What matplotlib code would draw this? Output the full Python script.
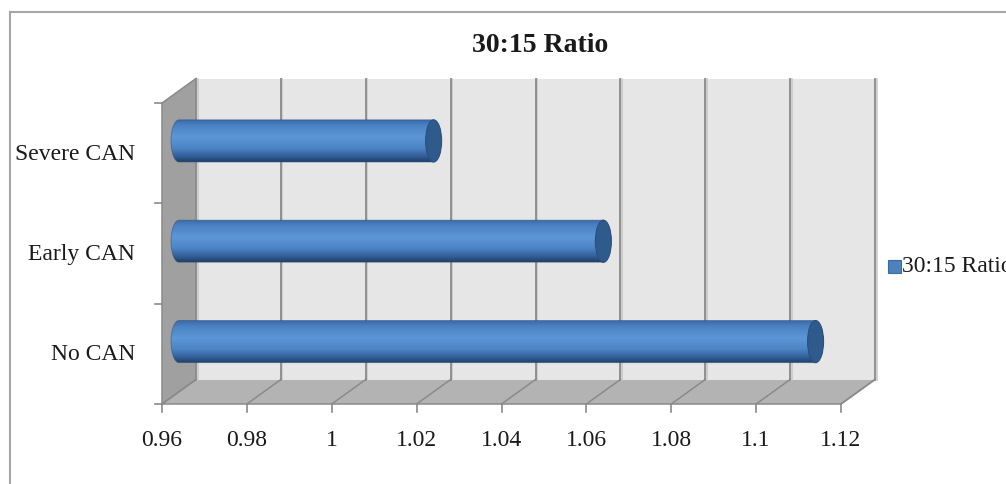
import numpy as np
import matplotlib
matplotlib.use("Agg")
import matplotlib.pyplot as plt
import matplotlib.transforms as mtransforms
from matplotlib.patches import Polygon, Ellipse, PathPatch, Rectangle
from matplotlib.path import Path
from matplotlib.colors import LinearSegmentedColormap
from matplotlib.lines import Line2D

# ---- data ----
categories = ["No CAN", "Early CAN", "Severe CAN"]
ratio_values = [1.11, 1.06, 1.02]
x_ticks = [0.96, 0.98, 1.00, 1.02, 1.04, 1.06, 1.08, 1.10, 1.12]
x_tick_labels = ["0.96", "0.98", "1", "1.02", "1.04", "1.06", "1.08", "1.1", "1.12"]
series_name = "30:15 Ratio"
chart_title = "30:15 Ratio"

W, H, DPI = 1006, 485, 100
fig = plt.figure(figsize=(W / DPI, H / DPI), dpi=DPI)
fig.patch.set_facecolor("white")

# front plane of the 3-D box (pixels)
L, R, B, T = 162, 841, 405, 104
ax = fig.add_axes([L / W, (H - B) / H, (R - L) / W, (B - T) / H])
ax.set_axis_off()
ax.set_autoscale_on(False)
ax.set_zorder(10)
xmin, xmax = x_ticks[0], x_ticks[-1]
ax.set_xlim(xmin, xmax)
ax.set_ylim(0, len(categories))

DX, DY = 34.0, 24.5  # depth offset in pixels (back wall relative to front)
IDT = mtransforms.IdentityTransform()


def pt(x, y, depth=0.0):
    px, py = ax.transData.transform((x, y))
    return (px + depth * DX, py + depth * DY)


def seg(a, b, **kw):
    ax.add_line(Line2D([a[0], b[0]], [a[1], b[1]], transform=IDT, clip_on=False, **kw))


serif = "Liberation Serif"
grid_c = "#8a8a8a"
ny = len(categories)

# floor, back wall, side wall
for verts, col in [
    ([pt(xmin, 0, 0), pt(xmax, 0, 0), pt(xmax, 0, 1), pt(xmin, 0, 1)], "#b3b3b3"),
    ([pt(xmin, 0, 1), pt(xmax, 0, 1), pt(xmax, ny, 1), pt(xmin, ny, 1)], "#e6e6e6"),
    ([pt(xmin, 0, 0), pt(xmin, 0, 1), pt(xmin, ny, 1), pt(xmin, ny, 0)], "#a0a0a0"),
]:
    ax.add_patch(Polygon(verts, closed=True, transform=IDT, facecolor=col,
                         edgecolor="none", clip_on=False, zorder=0.5))

# gridlines on back wall and floor, ticks and tick labels
lab_x_tr = mtransforms.offset_copy(ax.transData, fig=fig, x=0, y=-36, units="dots")
for xv, txt in zip(x_ticks, x_tick_labels):
    a, b = pt(xv, 0, 1), pt(xv, ny, 1)
    seg((a[0] + 1.5, a[1]), (b[0] + 1.5, b[1]), color="#c8c8c8", lw=1.2, zorder=0.8)
    seg(a, b, color=grid_c, lw=1.3, zorder=0.9)
    f = pt(xv, 0, 0)
    seg(f, a, color=grid_c, lw=1.1, zorder=0.9)
    seg(f, (f[0], f[1] - 8), color=grid_c, lw=1.2, zorder=0.9)
    ax.text(xv, 0, txt, transform=lab_x_tr, ha="center", va="center",
            fontsize=17, family=serif, color="#1a1a1a")

# box edges
for p, q in [((xmin, 0, 0), (xmax, 0, 0)), ((xmax, 0, 0), (xmax, 0, 1)),
             ((xmin, 0, 0), (xmin, ny, 0)), ((xmin, ny, 0), (xmin, ny, 1)),
             ((xmin, 0, 0), (xmin, 0, 1))]:
    seg(pt(*p), pt(*q), color=grid_c, lw=1.1, zorder=0.9)

# category separator ticks on the left
for k in range(ny + 1):
    a = pt(xmin, k, 0)
    seg((a[0] - 7, a[1]), a, color=grid_c, lw=1.2, zorder=0.9)

# category labels
lab_tr = mtransforms.offset_copy(ax.transData, fig=fig, x=-27, y=0, units="dots")
for i, name in enumerate(categories):
    ax.text(xmin, i + 0.5, name, transform=lab_tr, ha="right", va="center",
            fontsize=17, family=serif, color="#1a1a1a")

# cylinders at mid depth
mid_tr = mtransforms.offset_copy(ax.transData, fig=fig, x=DX / 2, y=DY / 2, units="dots")
cmap = LinearSegmentedColormap.from_list(
    "cyl", [(0.0, "#3868a5"), (0.15, "#4b82c3"), (0.42, "#5c97d7"),
            (0.68, "#4d84c4"), (0.86, "#33609a"), (1.0, "#223f66")])
grad = np.linspace(0, 1, 256).reshape(-1, 1)
half_h = 0.21
cap_w = 16.0 / ((R - L) / (xmax - xmin))  # cap ellipse width in data units

for i, v in enumerate(ratio_values):
    c = i + 0.5
    y0, y1 = c - half_h, c + half_h
    th = np.linspace(np.pi / 2, 3 * np.pi / 2, 40)
    left = np.column_stack([xmin + cap_w / 2 * np.cos(th), c + half_h * np.sin(th)])
    verts = np.vstack([[[v, y1]], left, [[v, y0]], [[v, y1]]])
    body = PathPatch(Path(verts), transform=mid_tr, facecolor="none", edgecolor="none",
                     clip_on=False, zorder=2)
    ax.add_patch(body)
    im = ax.imshow(grad, cmap=cmap, extent=[xmin - cap_w, v, y0, y1], origin="upper",
                   aspect="auto", transform=mid_tr, interpolation="bilinear", zorder=2)
    im.set_clip_path(body)
    ax.add_patch(PathPatch(Path(verts), transform=mid_tr, facecolor="none",
                           edgecolor="#2c5282", lw=0.6, alpha=0.6, clip_on=False, zorder=3))
    cap = Ellipse((v, c), width=cap_w, height=2 * half_h, transform=mid_tr,
                  facecolor="#2f5a8c", edgecolor="#2a5080", lw=0.8, clip_on=False, zorder=4)
    ax.add_patch(cap)

# title
fig.text(540 / W, 1 - 46 / H, chart_title, ha="center", va="center",
         fontsize=20, fontweight="bold", family=serif, color="#1a1a1a")

# legend
fig.add_artist(Rectangle((888 / W, 1 - 274 / H), 13 / W, 13 / H, transform=fig.transFigure,
                         facecolor="#4f81bd", edgecolor="#3a6aa5", lw=0.8))
fig.text(902 / W, 1 - 267 / H, series_name, ha="left", va="center",
         fontsize=17, family=serif, color="#1a1a1a")

# chart frame
fig.add_artist(Line2D([10 / W, 10 / W], [0, 1 - 13 / H], transform=fig.transFigure,
                      color="#a6a6a6", lw=1.5))
fig.add_artist(Line2D([10 / W, 1], [1 - 13 / H, 1 - 13 / H], transform=fig.transFigure,
                      color="#a6a6a6", lw=1.5))

fig.savefig("out.png", dpi=DPI, facecolor="white")
